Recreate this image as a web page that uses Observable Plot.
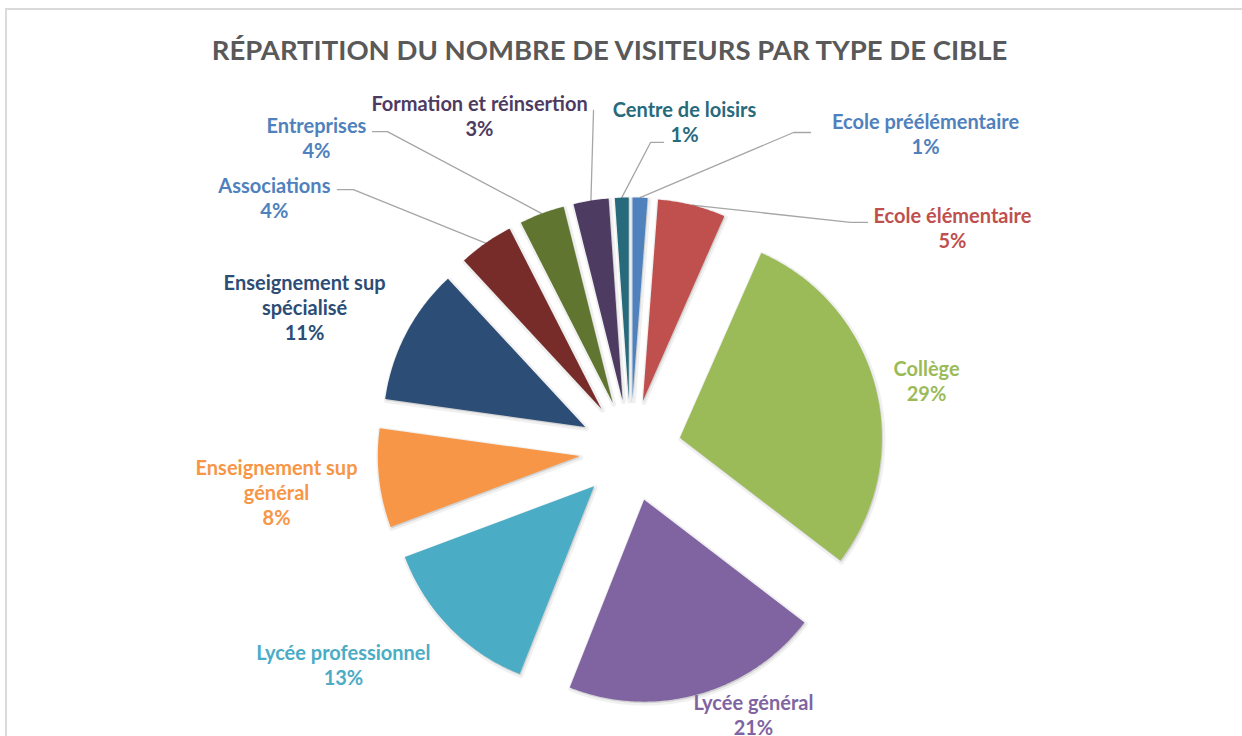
<!DOCTYPE html>
<html><head><meta charset="utf-8">
<script src="https://cdn.jsdelivr.net/npm/d3@7"></script>
<script src="https://cdn.jsdelivr.net/npm/@observablehq/plot@0.6"></script>
<style>
html,body{margin:0;padding:0;background:#fff;overflow:hidden;width:1242px;height:736px;}
#border{position:absolute;left:5px;top:8px;width:1400px;height:900px;border-left:2px solid #DADADA;border-top:2px solid #DADADA;}
#chart{position:absolute;left:0;top:0;}
</style></head>
<body><div id="border"></div><div id="chart"></div>
<script>
// ---- data ----
const title = "RÉPARTITION DU NOMBRE DE VISITEURS PAR TYPE DE CIBLE";
const categories = ["Ecole préélémentaire","Ecole élémentaire","Collège","Lycée général","Lycée professionnel","Enseignement sup général","Enseignement sup spécialisé","Associations","Entreprises","Formation et réinsertion","Centre de loisirs"];
const labelNames = ["Ecole préélémentaire","Ecole élémentaire","Collège","Lycée général","Lycée professionnel","Enseignement sup\ngénéral","Enseignement sup\nspécialisé","Associations","Entreprises","Formation et réinsertion","Centre de loisirs"];
const shares = [1.2, 5.4, 28.8, 20.6, 13.3, 7.9, 10.9, 4.4, 3.6, 2.8, 1.1];
const sliceColors = ["#4F81BD","#C0504D","#9BBB59","#8064A2","#4BACC6","#F79646","#2C4D75","#772C2A","#5F7530","#4D3B62","#276A7C"];
const labelColors = ["#4F81BD","#C0504D","#9BBB59","#8064A2","#4BACC6","#F79646","#2C4D75","#4F81BD","#4F81BD","#4D3B62","#276A7C"];

// ---- layout (pixels) ----
const W = 1242, H = 736;
const cx = 630, cy = 450, explode = 51, R = 202;
// label block center offsets from the slice's outer-arc midpoint
const labelOffsets = [[285.5,-64.2],[260.6,22.4],[51,-6.6],[55.4,19.7],[-106.5,37.2],[-102.5,13.5],[-101.6,-26.2],[-211.3,-46],[-225.4,-76.5],[-111.4,-85.1],[62.8,-75.7]];
// leader elbow / end offsets from the label center (null = no leader)
const leaderOffsets = [[[-132,-1],[-115,-1]],[[-102,-5],[-85,-5]],null,null,null,null,null,[[79,-7.5],[63,-7.5]],[[71,-5.5],[56,-5.5]],[[114,-5],[114,-5]],[[-34,20.5],[-21,20.5]]];

const arcs = d3.pie().sort(null).value(d => d)(shares);
const slicePts = [], labels = [], leaders = [];
arcs.forEach((a, i) => {
  const mid = (a.startAngle + a.endAngle) / 2;
  const tx = cx + explode * Math.sin(mid), ty = cy - explode * Math.cos(mid);
  slicePts.push({k: i, x: tx, y: ty, c: sliceColors[i]});
  const n = Math.max(4, Math.ceil((a.endAngle - a.startAngle) / 0.01));
  for (let j = 0; j <= n; j++) {
    const ang = a.startAngle + (a.endAngle - a.startAngle) * j / n;
    slicePts.push({k: i, x: tx + R * Math.sin(ang), y: ty - R * Math.cos(ang), c: sliceColors[i]});
  }
  const ax = tx + R * Math.sin(mid), ay = ty - R * Math.cos(mid);
  const lx = ax + labelOffsets[i][0], ly = ay + labelOffsets[i][1];
  labels.push({x: lx, y: ly, t: labelNames[i] + "\n" + Math.round(a.data) + "%", c: labelColors[i]});
  if (leaderOffsets[i]) {
    const [e, f] = leaderOffsets[i];
    leaders.push({k: i, x: ax, y: ay});
    leaders.push({k: i, x: lx + e[0], y: ly + e[1]});
    leaders.push({k: i, x: lx + f[0], y: ly + f[1]});
  }
});

const sliceMarks = sliceColors.map((col, i) =>
  Plot.line(slicePts.filter(p => p.k === i), {x: "x", y: "y", fill: col, stroke: "none", curve: "linear-closed"})
);
const shadowMarks = sliceColors.map((col, i) =>
  Plot.line(slicePts.filter(p => p.k === i), {x: "x", y: "y", fill: "#000", fillOpacity: 0.12, stroke: "#000", strokeOpacity: 0.06, strokeWidth: 5, dx: 1, dy: 1.5, curve: "linear-closed"})
);

const chart = Plot.plot({
  width: W, height: H, margin: 0,
  x: {domain: [0, W], range: [0, W], axis: null},
  y: {domain: [0, H], range: [0, H], axis: null},
  marks: [
    Plot.line(leaders, {x: "x", y: "y", z: "k", stroke: "#A6A6A6", strokeWidth: 1.3}),
    ...shadowMarks,
    ...sliceMarks,
    Plot.text(labels, {x: "x", y: "y", text: "t", fill: d => d.c, fontFamily: "Lato", fontWeight: "bold", fontSize: 20, lineHeight: 1.25, lineAnchor: "middle", textAnchor: "middle"}),
    Plot.text([title], {frameAnchor: "top", dx: -12, dy: 51, lineAnchor: "middle", fill: "#595959", fontFamily: "Lato", fontWeight: "bold", fontSize: 27.5})
  ]
});
document.getElementById("chart").append(chart);
</script>
</body></html>
